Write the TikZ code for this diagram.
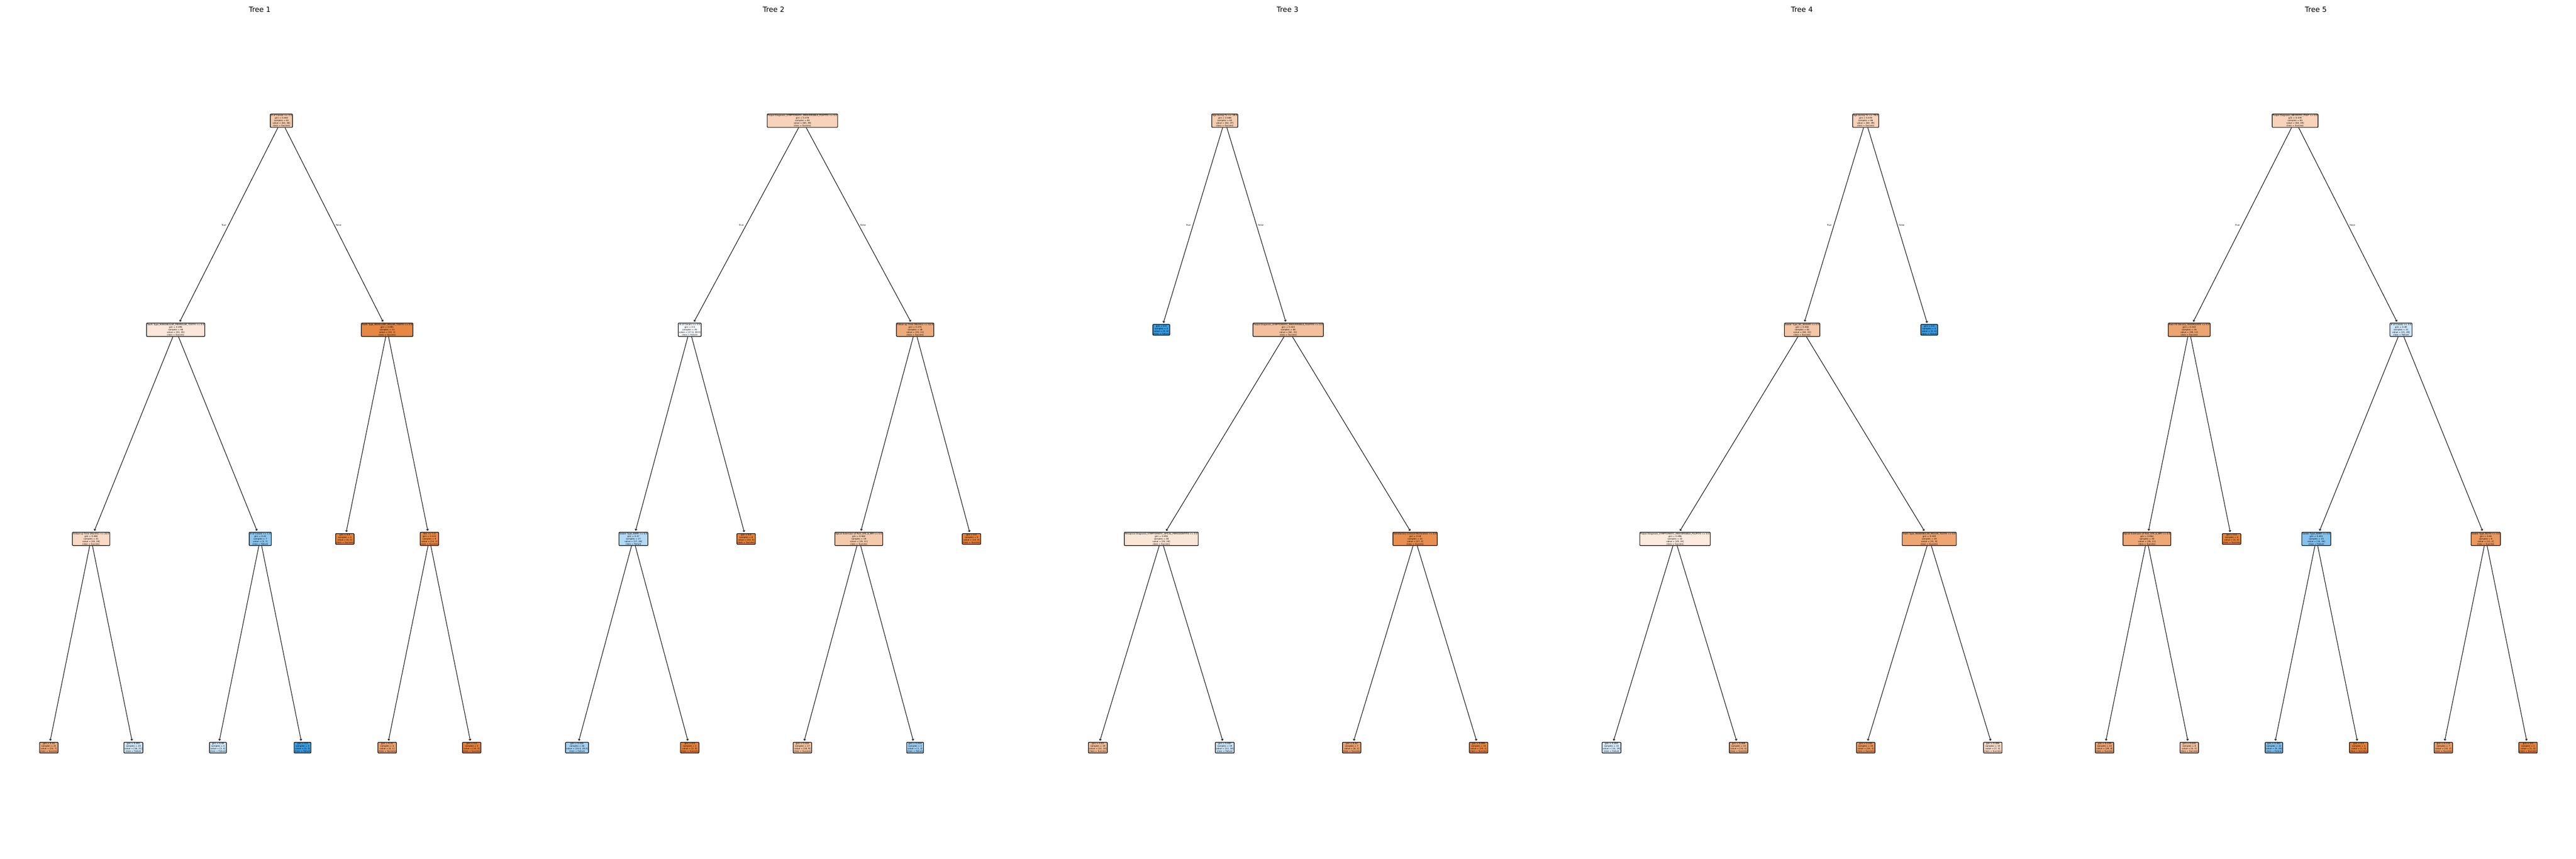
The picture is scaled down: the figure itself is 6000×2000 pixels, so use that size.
\documentclass[tikz,border=0pt]{standalone}
\usepackage{fontspec}
\setmainfont{DejaVu Sans}
\usetikzlibrary{arrows.meta,calc}
\definecolor{succ}{RGB}{229,129,57}
\definecolor{fail}{RGB}{57,157,229}
\tikzset{
 tn/.style={draw=black, line width=0.4pt, rounded corners=0.4pt, inner sep=0.45pt, align=center, font=\fontsize{1.42}{1.71}\selectfont, text=black},
 ed/.style={draw=black, line width=0.35pt, -{Straight Barb[length=0.8pt,width=1.4pt]}, shorten >=0.3mm},
 ttl/.style={font=\fontsize{4.74}{5.7}\selectfont, inner sep=0},
 tf/.style={font=\fontsize{1.42}{1.71}\selectfont, inner sep=0},
}
\newcommand\TN[5]{\node[tn,fill=#4] (#1) at (#2,#3) {#5};}
\begin{document}
\begin{tikzpicture}[x=0.1mm,y=-0.1mm]
\fill[white] (0,0) rectangle (6000,2000);
\useasboundingbox (0,0) rectangle (6000,2000);
% titles
\node[ttl] (ti1) at (605,22) {Tree 1};
\node[ttl] (ti2) at (1802,22) {Tree 2};
\node[ttl] (ti3) at (2999,22) {Tree 3};
\node[ttl] (ti4) at (4197,22) {Tree 4};
\node[ttl] (ti5) at (5394,22) {Tree 5};
% ---------------- Tree 1
\TN{a0}{655.5}{281}{succ!43!white}{\# of Canals <= 3.5\\gini = 0.463\\samples = 61\\value = [63, 36]\\class = Success}
\TN{a1}{409.2}{768}{succ!19!white}{Tooth Type\_MANDIBULAR\_PREMOLAR\_TOOTH <= 0.5\\gini = 0.495\\samples = 48\\value = [43, 35]\\class = Success}
\TN{a2}{901.7}{768}{succ!95!white}{Tooth Type\_MAXILLARY\_MOLAR\_TOOTH <= 0.5\\gini = 0.091\\samples = 13\\value = [20, 1]\\class = Success}
\TN{a3}{212.2}{1255}{succ!30!white}{Follow-up Time (Months) <= 23.0\\gini = 0.484\\samples = 41\\value = [40, 28]\\class = Success}
\TN{a4}{606.2}{1255}{fail!57!white}{\# of Canals <= 1.5\\gini = 0.42\\samples = 7\\value = [3, 7]\\class = Failure}
\TN{a5}{803.2}{1255}{succ}{gini = 0.0\\samples = 4\\value = [6, 0]\\class = Success}
\TN{a6}{1000.2}{1255}{succ!93!white}{Sex <= 1.5\\gini = 0.124\\samples = 9\\value = [14, 1]\\class = Success}
\TN{a7}{113.7}{1741}{succ!71!white}{gini = 0.35\\samples = 21\\value = [24, 7]\\class = Success}
\TN{a8}{310.7}{1741}{fail!24!white}{gini = 0.491\\samples = 20\\value = [16, 21]\\class = Failure}
\TN{a9}{507.7}{1741}{fail!25!white}{gini = 0.49\\samples = 4\\value = [3, 4]\\class = Failure}
\TN{a10}{704.7}{1741}{fail}{gini = 0.0\\samples = 3\\value = [0, 3]\\class = Failure}
\TN{a11}{901.7}{1741}{succ!75!white}{gini = 0.32\\samples = 4\\value = [4, 1]\\class = Success}
\TN{a12}{1098.7}{1741}{succ}{gini = 0.0\\samples = 5\\value = [10, 0]\\class = Success}
\draw[ed] (a0) -- (a1); \draw[ed] (a0) -- (a2);
\draw[ed] (a1) -- (a3); \draw[ed] (a1) -- (a4);
\draw[ed] (a2) -- (a5); \draw[ed] (a2) -- (a6);
\draw[ed] (a3) -- (a7); \draw[ed] (a3) -- (a8);
\draw[ed] (a4) -- (a9); \draw[ed] (a4) -- (a10);
\draw[ed] (a6) -- (a11); \draw[ed] (a6) -- (a12);
\path ($(a0)!0.5!(a1)$) node[tf,anchor=east,xshift=-0.5mm] (a0t) {True};
\path ($(a0)!0.5!(a2)$) node[tf,anchor=west,xshift=0.3mm] (a0f) {False};
% ---------------- Tree 2
\TN{b0}{1869}{281}{succ!35!white}{Pulpal Diagnosis\_SYMPTOMATIC\_IRREVERSIBLE\_PULPITIS <= 0.5\\gini = 0.478\\samples = 63\\value = [60, 39]\\class = Success}
\TN{b1}{1606.5}{768}{fail!4!white}{\# of Canals <= 3.5\\gini = 0.5\\samples = 35\\value = [27.0, 28.0]\\class = Failure}
\TN{b2}{2131.5}{768}{succ!67!white}{Follow-up Time (Months) <= 52.0\\gini = 0.375\\samples = 28\\value = [33, 11]\\class = Success}
\TN{b3}{1475.3}{1255}{fail!39!white}{Sealer Type\_KERR <= 0.5\\gini = 0.47\\samples = 27\\value = [17, 28]\\class = Failure}
\TN{b4}{1737.8}{1255}{succ}{gini = 0.0\\samples = 8\\value = [10, 0]\\class = Success}
\TN{b5}{2000.3}{1255}{succ!42!white}{Apical Extension of Post\_GTE\_6\_MM <= 0.5\\gini = 0.464\\samples = 19\\value = [19, 11]\\class = Success}
\TN{b6}{2262.8}{1255}{succ}{gini = 0.0\\samples = 9\\value = [14, 0]\\class = Success}
\TN{b7}{1344}{1741}{fail!46!white}{gini = 0.454\\samples = 26\\value = [15.0, 28.0]\\class = Failure}
\TN{b8}{1606.5}{1741}{succ}{gini = 0.0\\samples = 1\\value = [2, 0]\\class = Success}
\TN{b9}{1869}{1741}{succ!50!white}{gini = 0.444\\samples = 17\\value = [18, 9]\\class = Success}
\TN{b10}{2131.5}{1741}{fail!50!white}{gini = 0.444\\samples = 2\\value = [1, 2]\\class = Failure}
\draw[ed] (b0) -- (b1); \draw[ed] (b0) -- (b2);
\draw[ed] (b1) -- (b3); \draw[ed] (b1) -- (b4);
\draw[ed] (b2) -- (b5); \draw[ed] (b2) -- (b6);
\draw[ed] (b3) -- (b7); \draw[ed] (b3) -- (b8);
\draw[ed] (b5) -- (b9); \draw[ed] (b5) -- (b10);
\path ($(b0)!0.5!(b1)$) node[tf,anchor=east,xshift=-0.5mm] (b0t) {True};
\path ($(b0)!0.5!(b2)$) node[tf,anchor=west,xshift=0.3mm] (b0f) {False};
% ---------------- Tree 3
\TN{c0}{2852.7}{281}{succ!40!white}{Age during Tx <= 19.5\\gini = 0.468\\samples = 63\\value = [62, 37]\\class = Success}
\TN{c1}{2704.9}{768}{fail}{gini = 0.0\\samples = 3\\value = [0, 6]\\class = Failure}
\TN{c2}{3000.5}{768}{succ!50!white}{Pulpal Diagnosis\_SYMPTOMATIC\_IRREVERSIBLE\_PULPITIS <= 0.5\\gini = 0.444\\samples = 60\\value = [62, 31]\\class = Success}
\TN{c3}{2704.9}{1255}{succ!20!white}{Periapical Diagnosis\_SYMPTOMATIC\_APICAL\_PERIODONTITIS <= 0.5\\gini = 0.494\\samples = 38\\value = [35, 28]\\class = Success}
\TN{c4}{3296.1}{1255}{succ!89!white}{Satisfactory Coronal Restoration <= 0.5\\gini = 0.18\\samples = 22\\value = [27, 3]\\class = Success}
\TN{c5}{2557.1}{1741}{succ!55!white}{gini = 0.43\\samples = 19\\value = [22, 10]\\class = Success}
\TN{c6}{2852.7}{1741}{fail!28!white}{gini = 0.487\\samples = 19\\value = [13, 18]\\class = Failure}
\TN{c7}{3148.3}{1741}{succ!75!white}{gini = 0.32\\samples = 7\\value = [8, 2]\\class = Success}
\TN{c8}{3443.9}{1741}{succ!95!white}{gini = 0.095\\samples = 15\\value = [19, 1]\\class = Success}
\draw[ed] (c0) -- (c1); \draw[ed] (c0) -- (c2);
\draw[ed] (c2) -- (c3); \draw[ed] (c2) -- (c4);
\draw[ed] (c3) -- (c5); \draw[ed] (c3) -- (c6);
\draw[ed] (c4) -- (c7); \draw[ed] (c4) -- (c8);
\path ($(c0)!0.5!(c1)$) node[tf,anchor=east,xshift=-0.5mm] (c0t) {True};
\path ($(c0)!0.5!(c2)$) node[tf,anchor=west,xshift=0.3mm] (c0f) {False};
% ---------------- Tree 4
\TN{d0}{4345.5}{281}{succ!35!white}{Age during Tx <= 79.0\\gini = 0.478\\samples = 66\\value = [60, 39]\\class = Success}
\TN{d1}{4197.5}{768}{succ!45!white}{Sealer Type\_BC\_SEALER <= 0.5\\gini = 0.458\\samples = 61\\value = [60, 33]\\class = Success}
\TN{d2}{4493.5}{768}{fail}{gini = 0.0\\samples = 5\\value = [0, 6]\\class = Failure}
\TN{d3}{3901.5}{1255}{succ!17!white}{Pulpal Diagnosis\_SYMPTOMATIC\_IRREVERSIBLE\_PULPITIS <= 0.5\\gini = 0.496\\samples = 32\\value = [29, 24]\\class = Success}
\TN{d4}{4493.5}{1255}{succ!71!white}{Tooth Type\_MANDIBULAR\_MOLAR\_TOOTH <= 0.5\\gini = 0.349\\samples = 29\\value = [31, 9]\\class = Success}
\TN{d5}{3753.5}{1741}{fail!21!white}{gini = 0.493\\samples = 22\\value = [15, 19]\\class = Failure}
\TN{d6}{4049.5}{1741}{succ!64!white}{gini = 0.388\\samples = 10\\value = [14, 5]\\class = Success}
\TN{d7}{4345.5}{1741}{succ!83!white}{gini = 0.245\\samples = 19\\value = [24, 4]\\class = Success}
\TN{d8}{4641.5}{1741}{succ!29!white}{gini = 0.486\\samples = 10\\value = [7, 5]\\class = Success}
\draw[ed] (d0) -- (d1); \draw[ed] (d0) -- (d2);
\draw[ed] (d1) -- (d3); \draw[ed] (d1) -- (d4);
\draw[ed] (d3) -- (d5); \draw[ed] (d3) -- (d6);
\draw[ed] (d4) -- (d7); \draw[ed] (d4) -- (d8);
\path ($(d0)!0.5!(d1)$) node[tf,anchor=east,xshift=-0.5mm] (d0t) {True};
\path ($(d0)!0.5!(d2)$) node[tf,anchor=west,xshift=0.3mm] (d0f) {False};
% ---------------- Tree 5
\TN{e0}{5345.7}{281}{succ!35!white}{Pulpal Diagnosis\_NECROTIC\_PULP <= 0.5\\gini = 0.478\\samples = 65\\value = [60, 39]\\class = Success}
\TN{e1}{5099.1}{768}{succ!72!white}{Root Fill Density\_INADEQUATE <= 0.5\\gini = 0.343\\samples = 34\\value = [39, 11]\\class = Success}
\TN{e2}{5592.4}{768}{fail!25!white}{\# of Canals <= 3.5\\gini = 0.49\\samples = 31\\value = [21, 28]\\class = Failure}
\TN{e3}{5000.5}{1255}{succ!69!white}{Apical Extension of Post\_GTE\_6\_MM <= 0.5\\gini = 0.364\\samples = 30\\value = [35, 11]\\class = Success}
\TN{e4}{5197.8}{1255}{succ}{gini = 0.0\\samples = 4\\value = [4, 0]\\class = Success}
\TN{e5}{5395.1}{1255}{fail!62!white}{Sealer Type\_KERR <= 0.5\\gini = 0.401\\samples = 23\\value = [10, 26]\\class = Failure}
\TN{e6}{5789.7}{1255}{succ!82!white}{Sealer Type\_ROTH <= 0.5\\gini = 0.26\\samples = 8\\value = [11, 2]\\class = Success}
\TN{e7}{4901.8}{1741}{succ!72!white}{gini = 0.339\\samples = 22\\value = [29, 8]\\class = Success}
\TN{e8}{5099.1}{1741}{succ!50!white}{gini = 0.444\\samples = 8\\value = [6, 3]\\class = Success}
\TN{e9}{5296.4}{1741}{fail!65!white}{gini = 0.382\\samples = 22\\value = [9, 26]\\class = Failure}
\TN{e10}{5493.7}{1741}{succ}{gini = 0.0\\samples = 1\\value = [1, 0]\\class = Success}
\TN{e11}{5691}{1741}{succ!80!white}{gini = 0.278\\samples = 7\\value = [10, 2]\\class = Success}
\TN{e12}{5888.3}{1741}{succ}{gini = 0.0\\samples = 1\\value = [1, 0]\\class = Success}
\draw[ed] (e0) -- (e1); \draw[ed] (e0) -- (e2);
\draw[ed] (e1) -- (e3); \draw[ed] (e1) -- (e4);
\draw[ed] (e2) -- (e5); \draw[ed] (e2) -- (e6);
\draw[ed] (e3) -- (e7); \draw[ed] (e3) -- (e8);
\draw[ed] (e5) -- (e9); \draw[ed] (e5) -- (e10);
\draw[ed] (e6) -- (e11); \draw[ed] (e6) -- (e12);
\path ($(e0)!0.5!(e1)$) node[tf,anchor=east,xshift=-0.5mm] (e0t) {True};
\path ($(e0)!0.5!(e2)$) node[tf,anchor=west,xshift=0.3mm] (e0f) {False};
\end{tikzpicture}
\end{document}
